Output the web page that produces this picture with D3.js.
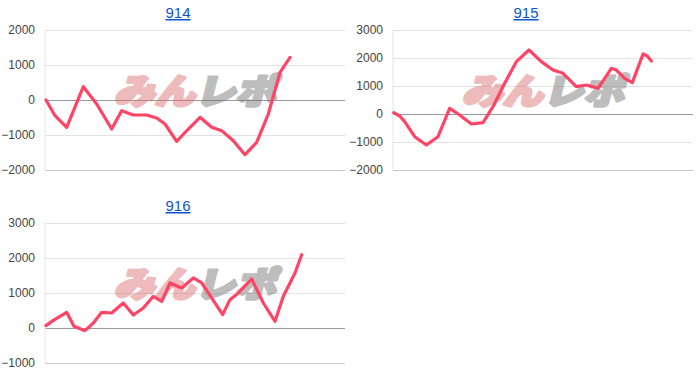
<!DOCTYPE html>
<html><head><meta charset="utf-8">
<script src="https://cdn.jsdelivr.net/npm/d3@7"></script>
<style>
html,body{margin:0;padding:0;background:#fff;}
svg{display:block;font-family:"Liberation Sans",Arial,sans-serif;}
</style></head>
<body>
<svg id="c" width="700" height="388"></svg>
<script>
// ---- data ----
const titles = ["914", "915", "916"];
const games914 = [30,300,650,1150,1550,2000,2300,2650,3050,3350,3600,3950,4300,4650,5000,5300,5650,6000,6350,6700,7050,7350];
const values914 = [0,-448,-781,381,-114,-829,-305,-429,-429,-514,-686,-1181,-829,-495,-781,-876,-1162,-1562,-1210,-400,790,1219];
const games915 = [20,200,350,650,1000,1350,1700,2000,2350,2700,3000,3350,3700,4080,4450,4800,5100,5500,5800,6150,6550,6700,6950,7180,7500,7630,7750];
const values915 = [48,-71,-274,-810,-1107,-810,202,-36,-357,-310,262,1095,1869,2286,1869,1571,1452,976,1036,917,1631,1571,1274,1119,2143,2071,1893];
const games916 = [30,250,650,870,1200,1450,1700,2000,2350,2650,2950,3250,3500,3750,4100,4450,4700,5330,5550,5800,6200,6550,6900,7150,7500,7700];
const values916 = [67,219,448,48,-76,143,448,429,714,371,571,905,762,1286,1143,1429,1286,381,810,1000,1400,714,190,905,1571,2095];
const ticks914 = [-2000,-1000,0,1000,2000];
const ticks915 = [-2000,-1000,0,1000,2000,3000];
const ticks916 = [-1000,0,1000,2000,3000];
const gameDomain = [0, 9000];

const charts = [
  {title: titles[0], games: games914, values: values914, ticks: ticks914, ox: 0, oy: 0},
  {title: titles[1], games: games915, values: values915, ticks: ticks915, ox: 348, oy: 0},
  {title: titles[2], games: games916, values: values916, ticks: ticks916, ox: 0, oy: 193}
];

const svg = d3.select("#c");
const W = 300, H = 140, L = 45, T = 30;

charts.forEach(c => {
  const g = svg.append("g").attr("transform", `translate(${c.ox},${c.oy})`);
  const x = d3.scaleLinear().domain(gameDomain).range([L, L + W]);
  const y = d3.scaleLinear().domain([c.ticks[0], c.ticks[c.ticks.length-1]]).range([T + H, T]);

  // title
  g.append("text").attr("x", L + W/2 - 17).attr("y", 18)
    .attr("text-anchor", "middle").attr("font-size", 15)
    .attr("fill", "#1155cc").attr("text-decoration", "underline")
    .text(c.title);

  // grid
  const axis = d3.axisLeft(y).tickValues(c.ticks).tickSize(-W).tickPadding(10).tickFormat(d3.format("d"));
  const ga = g.append("g").attr("transform", `translate(${L},0)`).call(axis);
  ga.select(".domain").remove();
  ga.selectAll(".tick line").attr("stroke", d => d === 0 ? "#9a9a9a" : (d === c.ticks[0] ? "#c8c8c8" : "#e2e2e2"));
  ga.selectAll(".tick text").attr("font-size", 12).attr("fill", "#444")
    .attr("font-family", "'Liberation Sans',Arial,sans-serif");
  // vertical axis line
  g.append("line").attr("x1", L).attr("x2", L).attr("y1", T).attr("y2", T + H).attr("stroke", "#e6e6e6");

  // watermark
  const wmg = g.append("g").attr("opacity", 0.45)
    .attr("transform", `translate(${L + W/2},104) skewX(-14)`);
  const wm = wmg.append("text").attr("x", 0).attr("y", 0)
    .attr("text-anchor", "middle").attr("font-size", 35).attr("font-weight", "900")
    .attr("stroke-width", 3).attr("stroke-linejoin", "round")
    .attr("textLength", 162).attr("lengthAdjust", "spacingAndGlyphs")
    .attr("font-family", "'Noto Sans CJK JP',sans-serif");
  wm.append("tspan").attr("fill", "#d86a6a").attr("stroke", "#d86a6a").text("みん");
  wm.append("tspan").attr("fill", "#6e6e6e").attr("stroke", "#6e6e6e").text("レポ");

  // line
  const pts = c.games.map((gm, i) => [gm, c.values[i]]);
  g.append("path").datum(pts)
    .attr("fill", "none").attr("stroke", "#ff4466").attr("stroke-width", 3.2)
    .attr("stroke-linejoin", "round").attr("stroke-linecap", "round")
    .attr("d", d3.line().x(d => x(d[0])).y(d => y(d[1])));
});
</script>
</body></html>
